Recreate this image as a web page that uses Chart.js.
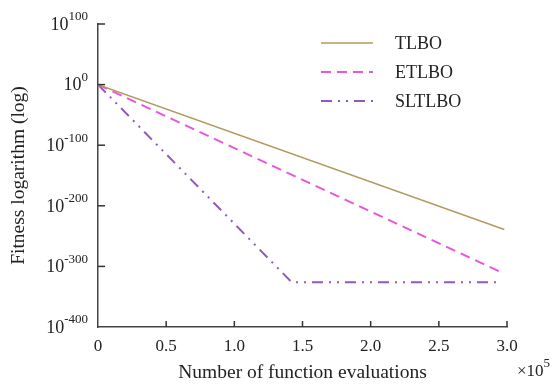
<!DOCTYPE html>
<html>
<head>
<meta charset="utf-8">
<script src="https://cdn.jsdelivr.net/npm/chart.js@4"></script>
<style>
  body { margin: 0; background: #fff; }
  #wrap { width: 552px; height: 386px; }
</style>
</head>
<body>
<div id="wrap"><canvas id="myChart"></canvas></div>
<script>
// x in units of 1e5 evaluations, y is the log10 exponent of fitness
var seriesNames = ['TLBO', 'ETLBO', 'SLTLBO'];
var tlboX = [0, 2.98];
var tlboY = [0, -239];
var etlboX = [0, 2.96];
var etlboY = [0, -310];
var sltlboX = [0, 1.42, 2.93];
var sltlboY = [0, -326, -326];
var xTicks = [0, 0.5, 1.0, 1.5, 2.0, 2.5, 3.0];
var yTicks = [100, 0, -100, -200, -300, -400];

var serif = '"Liberation Serif", "Times New Roman", serif';

function pts(xs, ys) {
    return xs.map(function (x, i) { return { x: x, y: ys[i] }; });
}

var styles = [
    { color: '#b19c5e', width: 1.5, dash: [] },
    { color: '#e955d9', width: 2, dash: [10, 6] },
    { color: '#9158bf', width: 2, dash: [11, 6, 2, 6, 2, 6] }
];

//draws the 10^n labels, inner tick marks, legend and the x10^5 note
var extras = {
    id: 'extras',
    afterDraw: function (chart) {
        var c = chart.ctx;
        var xs = chart.scales.x, ys = chart.scales.y;
        var area = chart.chartArea;
        c.save();
        c.strokeStyle = '#333';
        c.lineWidth = 1.5;
        yTicks.forEach(function (v) {
            if (v === -400) return;
            var py = ys.getPixelForValue(v);
            c.beginPath(); c.moveTo(area.left, py); c.lineTo(area.left + 7, py); c.stroke();
        });
        xTicks.forEach(function (v) {
            if (v === 0) return;
            var px = xs.getPixelForValue(v);
            c.beginPath(); c.moveTo(px, area.bottom); c.lineTo(px, area.bottom - 6); c.stroke();
        });

        //y tick labels
        c.fillStyle = '#222';
        c.textBaseline = 'middle';
        yTicks.forEach(function (v) {
            var py = ys.getPixelForValue(v);
            var exp = String(v);
            c.font = '13px ' + serif;
            var ew = c.measureText(exp).width;
            c.font = '18px ' + serif;
            var bw = c.measureText('10').width;
            var right = area.left - 10;
            c.textAlign = 'left';
            c.fillText('10', right - ew - bw, py + 1);
            c.font = '13px ' + serif;
            c.fillText(exp, right - ew, py - 7);
        });

        //x10^5
        c.font = '17px ' + serif;
        c.fillText('\u00d710', 517, 372);
        var w = c.measureText('\u00d710').width;
        c.font = '13px ' + serif;
        c.fillText('5', 517 + w, 364);

        //legend
        var ly = [43, 72, 101];
        seriesNames.forEach(function (n, i) {
            var s = styles[i];
            c.strokeStyle = s.color;
            c.lineWidth = s.width;
            c.setLineDash(s.dash);
            c.beginPath(); c.moveTo(321, ly[i]); c.lineTo(373, ly[i]); c.stroke();
            c.setLineDash([]);
            c.fillStyle = '#222';
            c.font = '18px ' + serif;
            c.fillText(n, 395, ly[i] + 1);
        });
        c.restore();
    }
};

var ctx = document.getElementById('myChart').getContext('2d');

var myChart = new Chart(ctx, {
    type: 'scatter',
    data: {
        datasets: [
            { label: seriesNames[0], data: pts(tlboX, tlboY) },
            { label: seriesNames[1], data: pts(etlboX, etlboY) },
            { label: seriesNames[2], data: pts(sltlboX, sltlboY) }
        ].map(function (d, i) {
            d.showLine = true;
            d.borderColor = styles[i].color;
            d.borderWidth = styles[i].width;
            d.borderDash = styles[i].dash;
            d.pointRadius = 0;
            d.fill = false;
            return d;
        })
    },
    options: {
        responsive: true,
        maintainAspectRatio: false,
        animation: false,
        layout: { padding: { top: 24, right: 45, left: 0, bottom: 0 } },
        plugins: {
            legend: { display: false },
            tooltip: { enabled: false }
        },
        scales: {
            x: {
                type: 'linear',
                min: 0,
                max: 3,
                afterBuildTicks: function (s) { s.ticks = xTicks.map(function (v) { return { value: v }; }); },
                afterFit: function (s) { s.height = 59; },
                grid: { display: false, drawTicks: false },
                border: { display: true, color: '#444', width: 1.5 },
                ticks: {
                    color: '#222',
                    padding: 9,
                    maxRotation: 0,
                    font: { family: serif, size: 17 },
                    callback: function (v) { return v === 0 ? '0' : v.toFixed(1); }
                },
                title: {
                    display: true,
                    text: 'Number of function evaluations',
                    color: '#222',
                    font: { family: serif, size: 19.5 },
                    padding: { top: 0, bottom: 1 }
                }
            },
            y: {
                type: 'linear',
                min: -400,
                max: 100,
                afterFit: function (s) { s.width = 98; },
                grid: { display: false, drawTicks: false },
                border: { display: true, color: '#444', width: 1.5 },
                ticks: { display: false, stepSize: 100 },
                title: {
                    display: true,
                    text: 'Fitness logarithm (log)',
                    color: '#222',
                    font: { family: serif, size: 19.5 },
                    padding: { top: 7, bottom: 0 }
                }
            }
        }
    },
    plugins: [extras]
});
</script>
</body>
</html>
